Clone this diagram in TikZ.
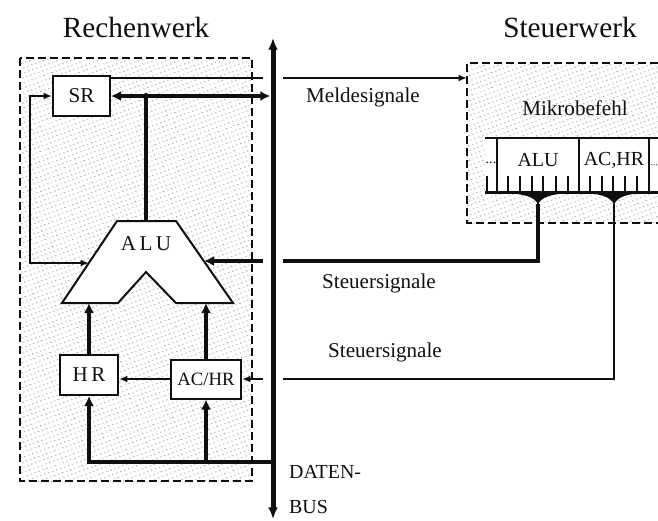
\documentclass[tikz,border=0pt]{standalone}
\usepackage{fontspec}
\setmainfont{Liberation Serif}
\usetikzlibrary{arrows.meta, patterns.meta}

\begin{document}
\begin{tikzpicture}[x=0.03cm, y=-0.03cm]

\definecolor{ink}{RGB}{15,15,15}
\definecolor{stipple}{RGB}{60,60,60}

\tikzset{
  area/.style={pattern={Dots[distance=4pt, radius=0.55pt, angle=20]}, pattern color=stipple},
  frame/.style={draw=ink, line width=0.055cm, dash pattern=on 0.24cm off 0.12cm},
  reg/.style={draw=ink, fill=white, line width=0.06cm, inner sep=0pt, text=ink, font=\fontsize{18}{20}\selectfont},
  sig/.style={draw=ink, line width=0.045cm, -{Latex[length=0.25cm, width=0.2cm]}},
  dat/.style={draw=ink, line width=0.12cm, -{Latex[length=0.3cm, width=0.3cm]}},
  bus/.style={draw=ink, line width=0.15cm, {Latex[length=0.35cm, width=0.3cm]}-{Latex[length=0.35cm, width=0.3cm]}},
  lab/.style={text=ink, font=\fontsize{18}{20}\selectfont},
  title/.style={text=ink, font=\fontsize{25}{28}\selectfont},
}

\useasboundingbox (0,0) rectangle (658,520);

\node[title] (rwtitle) at (136,27) {Rechenwerk};
\node[title] (swtitle) at (570,27) {Steuerwerk};

% Rechenwerk
\fill[area] (20,58) rectangle (252,481);
\draw[frame] (20,58) rectangle (252,481);

% Steuerwerk
\fill[area] (467,63) rectangle (658,223);
\draw[frame] (658,63) -- (467,63) -- (467,223) -- (658,223);
\node[lab] (mbtitle) at (575,108) {Mikrobefehl};

\fill[white] (485,138) rectangle (658,192);
\draw[ink, line width=0.05cm] (485,138) -- (658,138);
\draw[ink, line width=0.09cm] (485,192) -- (658,192);
\foreach \d in {497,579,649}
  \draw[ink, line width=0.04cm] (\d,138) -- (\d,192);
\foreach \t in {487,508,520,532,543,556,568,590,602,613,625,637}
  \draw[ink, line width=0.04cm] (\t,176) -- (\t,192);
\foreach \a/\m/\b in {497/538/579, 579/614/649}
  \fill[ink] (\a,192) .. controls (\m-14,194) and (\m-3,196) .. (\m,205) .. controls (\m+3,196) and (\m+14,194) .. (\b,192) -- cycle;
\coordinate (f-alu) at (538,204);
\coordinate (f-acr) at (614,204);

\node[lab, font=\fontsize{12}{14}\selectfont] (fdots1) at (491,163) {...};
\node[lab, font=\fontsize{17}{19}\selectfont] (falu) at (538,160) {ALU};
\node[lab, font=\fontsize{17}{19}\selectfont] (facr) at (614,160) {AC,HR};
\node[lab, font=\fontsize{8}{10}\selectfont, anchor=west, inner sep=0pt] (fdots2) at (650.5,165) {...};

% Register und ALU
\node[reg, minimum width=1.71cm, minimum height=1.2cm] (sr) at (81.5,96) {SR};
\node[reg, minimum width=1.74cm, minimum height=1.2cm] (hr) at (89,375) {H\,R};
\node[reg, minimum width=2.1cm, minimum height=1.17cm, font=\fontsize{16}{18}\selectfont] (acr) at (206,379) {AC/HR};

\draw[reg] (117,221) -- (176,221) -- (233,303) -- (176,303) -- (146,272) -- (118,303) -- (62,303) -- cycle;
\node[lab] (alu) at (146,244) {A\,L\,U};
\coordinate (alu-top) at (146,221);
\coordinate (alu-l) at (89,263);
\coordinate (alu-r) at (204,261);
\coordinate (alu-in1) at (89,303);
\coordinate (alu-in2) at (206,303);

\coordinate (bustop) at (273,38);
\coordinate (busbot) at (273,519);
\coordinate (swin) at (467,78);
\coordinate (fb) at (30,180);
\coordinate (dbus) at (273,462);

\draw[sig] (sr.north east |- swin) -- (swin);
\draw[sig, {Latex[length=0.25cm, width=0.2cm]}-{Latex[length=0.25cm, width=0.2cm]}] (sr.west) -| (fb) |- (alu-l);
\draw[dat, {Latex[length=0.3cm, width=0.3cm]}-{Latex[length=0.3cm, width=0.3cm]}, shorten >=0.08cm] (sr.east) -- (sr.east -| bustop);
\draw[dat, -] (alu-top) -- (alu-top |- sr.east);
\fill[ink] (alu-top |- sr.east) circle (0.09cm);

\draw[dat] (f-alu) |- (alu-r);
\draw[sig] (f-acr) |- (acr.east);

\draw[dat] (hr.north) -- (alu-in1);
\draw[dat] (acr.north) -- (alu-in2);
\draw[sig] (acr.west) -- (acr.west -| hr.east);

\draw[dat] (dbus) -| (hr.south);
\draw[dat] (dbus -| acr.south) -- (acr.south);

% Datenbus
\foreach \y in {78,261,379}
  \fill[white] (263,\y-5) rectangle (283,\y+5);
\draw[bus] (bustop) -- (busbot);

\node[lab] (melde) at (363,97) {Meldesignale};
\node[lab] (steuer1) at (379,283) {Steuersignale};
\node[lab] (steuer2) at (385,352) {Steuersignale};
\node[lab, anchor=west, font=\fontsize{17}{19}\selectfont] (daten) at (285,472) {DATEN-};
\node[lab, anchor=west, font=\fontsize{17}{19}\selectfont] (busl) at (285,507) {BUS};

\end{tikzpicture}
\end{document}
